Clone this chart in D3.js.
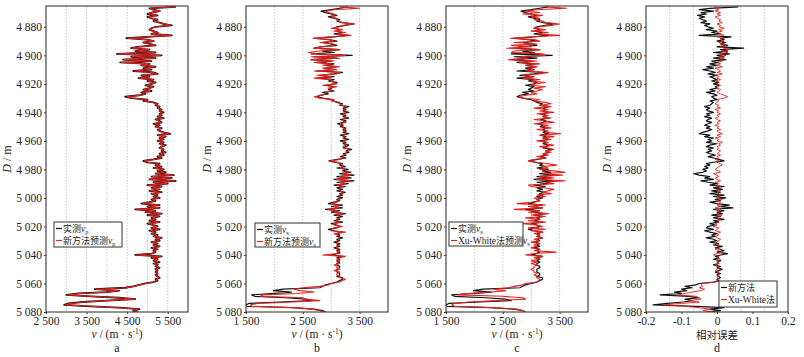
<!DOCTYPE html>
<html>
<head>
<meta charset="utf-8">
<script src="https://cdn.jsdelivr.net/npm/d3@7"></script>
<style>
body { margin: 0; background: #fff; }
text { font-family: "Liberation Serif", "Times New Roman", serif; fill: #222; }
.cjk { font-family: "Noto Sans CJK SC", sans-serif; }
</style>
</head>
<body>
<svg id="chart" width="804" height="357"></svg>
<script>
// depth sampling: one value per metre starting at 4866 m
var depthStart = 4866, depthStep = 1;

var vpMeasured = [
  5700, 5050, 5150, 5300, 5100, 5000, 5250, 5000, 5100, 5250,
  5150, 5300, 5400, 5600, 5200, 5100, 5050, 5150, 5250, 5100,
  5600, 5000, 4480, 5000, 5150, 4900, 5050, 5200, 4750, 4600,
  5050, 4700, 5200, 4250, 5350, 4600, 5200, 4400, 5100, 4330,
  5050, 4850, 5200, 4900, 5100, 4650, 5150, 5250, 4850, 5050,
  4780, 5150, 5000, 5200, 5100, 4950, 5150, 5050, 4900, 5100,
  4850, 4950, 4800, 4450, 4600, 5000, 4900, 5150, 5250, 5200,
  5300, 5250, 5350, 5300, 5400, 5300, 5350, 5250, 5400, 5200,
  5300, 5350, 5150, 5300, 5200, 5350, 5250, 5300, 5400, 5560,
  5250, 5450, 5300, 5400, 5250, 5400, 5300, 5450, 5350, 5300,
  5400, 5350, 5450, 5300, 5400, 5250, 5350, 5150, 4900, 5000,
  5300, 5200, 5350, 5150, 5400, 5250, 5450, 5200, 5650, 5100,
  5600, 5050, 5700, 5150, 5500, 5000, 5350, 5100, 5300, 5050,
  5350, 5100, 5250, 5150, 5300, 5100, 5200, 5050, 4850, 5300,
  5000, 5300, 4700, 5200, 4950, 5350, 5000, 5300, 5100, 5200,
  5050, 5300, 5000, 5150, 5250, 5100, 5300, 5050, 5200, 5100,
  5250, 5150, 5350, 5200, 5300, 5100, 5250, 5150, 5300, 5100,
  5250, 5150, 5200, 5100, 4700, 5350, 5100, 5250, 5150, 5300,
  5150, 5250, 5200, 5300, 5200, 5250, 5200, 5250, 5200, 5250,
  5300, 5200, 5250, 5150, 4950, 4800, 4650, 4450, 3700, 4300,
  4000, 3300, 3000, 3600, 4300, 4700, 4000, 3400, 3050, 2950,
  3600, 4300, 4800, 4650, 4750
];

var vpNewMethod = [
  5680, 5080, 5120, 5320, 5080, 5030, 5220, 5020, 5120, 5230,
  5170, 5280, 5420, 5570, 5230, 5080, 5070, 5130, 5270, 5080,
  5570, 5030, 4520, 4980, 5170, 4880, 5070, 5180, 4780, 4620,
  5030, 4730, 5180, 4290, 5320, 4630, 5180, 4430, 5080, 4360,
  5070, 4830, 5180, 4930, 5080, 4680, 5130, 5230, 4880, 5030,
  4810, 5130, 5020, 5180, 5120, 4970, 5130, 5070, 4920, 5080,
  4880, 4930, 4830, 4490, 4630, 4980, 4930, 5130, 5230, 5220,
  5280, 5270, 5330, 5320, 5380, 5320, 5330, 5270, 5380, 5220,
  5280, 5330, 5180, 5280, 5220, 5330, 5270, 5280, 5380, 5530,
  5270, 5430, 5320, 5380, 5270, 5380, 5320, 5430, 5330, 5320,
  5380, 5370, 5430, 5320, 5380, 5270, 5330, 5170, 4930, 5020,
  5280, 5220, 5330, 5170, 5380, 5270, 5430, 5220, 5620, 5130,
  5580, 5070, 5670, 5170, 5480, 5030, 5330, 5120, 5280, 5070,
  5330, 5120, 5230, 5170, 5280, 5120, 5180, 5070, 4880, 5280,
  5030, 5280, 4730, 5180, 4970, 5330, 5030, 5280, 5120, 5180,
  5070, 5280, 5030, 5130, 5230, 5120, 5280, 5070, 5180, 5120,
  5230, 5170, 5330, 5220, 5280, 5120, 5230, 5170, 5280, 5120,
  5230, 5170, 5180, 5120, 4730, 5330, 5120, 5230, 5170, 5280,
  5170, 5230, 5220, 5280, 5220, 5230, 5220, 5230, 5220, 5230,
  5280, 5220, 5230, 5170, 4970, 4820, 4680, 4480, 3740, 4280,
  4030, 3330, 3040, 3570, 4280, 4670, 4030, 3430, 3080, 2980,
  3570, 4280, 4770, 4670, 4730
];

var vsMeasured = [
  3300, 3150, 3000, 2820, 2900, 3000, 3100, 2950, 3050, 3150,
  3100, 3200, 3400, 3250, 3100, 3050, 3150, 3100, 3200, 3050,
  3300, 3050, 2700, 2950, 3100, 2850, 3000, 3100, 2800, 2700,
  3150, 2850, 3050, 2650, 3370, 2700, 3100, 2650, 3000, 2750,
  3050, 2900, 3100, 2900, 3050, 2750, 3200, 3050, 2800, 3050,
  2750, 3050, 2950, 3100, 3050, 2900, 3050, 3000, 2950, 3050,
  2850, 2950, 2800, 2750, 2850, 3000, 3050, 3100, 3200, 3150,
  3310, 3210, 3260, 3210, 3310, 3160, 3260, 3210, 3310, 3160,
  3260, 3210, 3110, 3210, 3160, 3260, 3210, 3260, 3210, 3310,
  3160, 3260, 3210, 3310, 3160, 3260, 3210, 3310, 3260, 3210,
  3360, 3260, 3310, 3210, 3260, 3160, 3260, 3110, 2960, 3060,
  3200, 3150, 3250, 3100, 3300, 3200, 3350, 3150, 3400, 3100,
  3350, 3050, 3400, 3100, 3300, 3050, 3250, 3100, 3200, 3100,
  3250, 3150, 3200, 3100, 3200, 3100, 3150, 3050, 2950, 3200,
  3000, 3200, 2900, 3150, 3000, 3250, 3050, 3200, 3100, 3150,
  3050, 3200, 3000, 3100, 3150, 3100, 2950, 3050, 3200, 3100,
  3150, 3100, 3200, 3100, 3150, 3050, 3150, 3100, 3150, 3050,
  3150, 3100, 3150, 3100, 3000, 3200, 3100, 3150, 3100, 3150,
  3100, 3100, 3150, 3150, 3100, 3100, 3100, 3150, 3150, 3100,
  3200, 3200, 3150, 3100, 3000, 2900, 2850, 2800, 2150, 1980,
  2300, 2000, 1600, 1650, 2200, 2550, 2650, 2100, 1550, 1500,
  1520, 2300, 2700, 2850, 2900
];

var vsNewMethod = [
  3150, 3500, 3050, 2900, 2950, 3050, 3050, 3000, 3100, 3100,
  3150, 3150, 3410, 3200, 3150, 3000, 3200, 3050, 3250, 3100,
  3350, 3000, 2680, 3000, 3050, 2800, 3050, 3050, 2850, 2680,
  3150, 2800, 2600, 2750, 3250, 2650, 3150, 2640, 3050, 2700,
  3000, 2850, 3150, 2850, 3100, 2700, 3150, 3100, 2750, 3000,
  2700, 3000, 3000, 3050, 3100, 2850, 3100, 2950, 3000, 3000,
  2900, 2900, 2850, 2700, 2800, 3050, 3000, 3150, 3150, 3200,
  3260, 3260, 3210, 3260, 3260, 3210, 3210, 3260, 3260, 3210,
  3210, 3260, 3160, 3160, 3210, 3210, 3260, 3210, 3260, 3260,
  3210, 3210, 3260, 3260, 3210, 3210, 3260, 3260, 3210, 3260,
  3310, 3310, 3260, 3260, 3210, 3210, 3210, 3160, 2980, 3110,
  3150, 3200, 3200, 3150, 3250, 3250, 3300, 3200, 3350, 3150,
  3300, 3100, 3350, 3150, 3250, 3100, 3200, 3150, 3150, 3150,
  3200, 3200, 3150, 3150, 3150, 3150, 3100, 3100, 3000, 3150,
  3050, 3150, 2950, 3100, 3050, 3200, 3100, 3150, 3150, 3100,
  3100, 3150, 3050, 3050, 3200, 3050, 3000, 3000, 3250, 3050,
  3100, 3150, 3150, 3150, 3100, 3100, 3100, 3150, 3100, 3100,
  3100, 3150, 3100, 3150, 2850, 3250, 3150, 3100, 3150, 3100,
  3150, 3050, 3100, 3100, 3150, 3050, 3150, 3100, 3100, 3150,
  3150, 3250, 3200, 3150, 3000, 2950, 2800, 2500, 2350, 2450,
  2700, 2400, 1800, 1750, 2500, 2550, 2800, 2300, 1700, 1580,
  1600, 2400, 2650, 2800, 2850
];

var vsXuWhite = [
  3250, 3620, 3100, 2900, 3150, 2850, 3200, 3000, 3150, 3050,
  3200, 3250, 3500, 3350, 3150, 3050, 3250, 3000, 3300, 3100,
  3500, 3000, 2630, 3050, 3150, 2700, 3100, 2650, 3000, 2570,
  3150, 2700, 2650, 3200, 3250, 2800, 2950, 2600, 3100, 2800,
  3150, 2900, 3100, 2950, 3050, 2900, 3300, 3150, 2850, 3050,
  2850, 3150, 3000, 3250, 3050, 3000, 3250, 3050, 3200, 3100,
  3000, 3100, 2900, 2780, 2850, 3150, 3050, 3250, 3350, 3150,
  3350, 3050, 3300, 3150, 3400, 3100, 3300, 3200, 3350, 3050,
  3250, 3400, 3050, 3300, 3200, 3350, 3100, 3300, 3250, 3520,
  3150, 3400, 3200, 3350, 3100, 3300, 3250, 3400, 3150, 3300,
  3400, 3250, 3350, 3200, 3300, 3100, 3250, 3050, 2950, 3100,
  3300, 3450, 3200, 3300, 3150, 3400, 3600, 3200, 3550, 3150,
  3400, 3100, 3600, 3250, 3400, 2950, 3000, 3250, 3400, 3300,
  3200, 3350, 3100, 3250, 3050, 3100, 3150, 3000, 2750, 3250,
  2950, 3200, 2700, 3150, 2950, 3300, 3000, 3250, 2900, 3150,
  2950, 3250, 2850, 3100, 3200, 2950, 3250, 3000, 3200, 3050,
  3150, 3100, 3200, 3050, 3150, 3000, 3150, 3050, 3100, 3000,
  3150, 3050, 3440, 3050, 2900, 3200, 3050, 3150, 3000, 3100,
  3000, 3100, 3050, 3050, 3000, 3050, 3050, 3100, 3050, 3100,
  3100, 3150, 3150, 3100, 2900, 2850, 2700, 2600, 2350, 2550,
  2300, 1900, 1700, 2500, 2850, 2900, 2400, 1900, 1650, 1600,
  1650, 2350, 2750, 2850, 2880
];

var errNewMethod = [
  0.06, -0.02, -0.05, -0.01, -0.045, -0.03, -0.055, -0.035, -0.05, -0.04,
  -0.03, -0.045, -0.02, -0.035, -0.025, -0.01, -0.03, 0.0, -0.015, 0.01,
  -0.05, 0.04, 0.01, 0.02, 0.0, 0.025, 0.01, 0.03, 0.0, 0.075,
  0.01, 0.03, -0.01, 0.035, 0.0, 0.02, -0.01, 0.025, -0.015, 0.005,
  -0.02, 0.0, -0.03, -0.01, -0.04, -0.02, -0.005, -0.025, 0.0, -0.02,
  -0.01, 0.0, -0.015, 0.005, -0.01, 0.005, -0.005, 0.0, -0.02, -0.005,
  -0.03, -0.01, 0.0, -0.015, -0.01, 0.0, -0.02, -0.01, -0.015, -0.02,
  -0.035, -0.02, -0.03, -0.025, -0.01, -0.03, -0.02, -0.035, -0.015, -0.025,
  -0.03, -0.015, -0.025, -0.035, -0.02, -0.03, -0.015, -0.025, -0.04, -0.05,
  -0.02, -0.035, -0.01, -0.025, -0.015, -0.03, 0.0, -0.02, -0.03, -0.01,
  -0.025, -0.015, -0.03, -0.02, -0.005, -0.025, -0.01, 0.005, 0.02, -0.01,
  -0.03, -0.02, -0.035, -0.025, -0.04, -0.03, -0.04, -0.065, -0.05, -0.02,
  -0.035, -0.01, -0.045, -0.025, 0.0, -0.02, 0.02, -0.01, 0.015, -0.015,
  0.01, -0.02, 0.02, -0.01, 0.025, -0.005, 0.01, -0.02, 0.0, 0.035,
  0.005, 0.045, -0.01, 0.02, 0.0, 0.015, -0.015, 0.01, -0.01, 0.02,
  -0.01, 0.005, -0.02, -0.005, -0.025, -0.03, -0.01, -0.035, -0.02, 0.0,
  -0.015, -0.005, -0.03, -0.01, 0.0, -0.02, 0.005, -0.01, 0.015, -0.005,
  0.01, 0.02, 0.0, 0.03, 0.01, -0.005, 0.005, -0.01, 0.01, 0.0,
  0.005, -0.01, 0.01, 0.0, 0.015, 0.005, -0.005, 0.01, 0.0, 0.005,
  0.01, 0.0, 0.005, -0.01, -0.05, -0.06, -0.09, -0.07, -0.1, -0.085,
  -0.12, -0.1, -0.16, -0.08, -0.05, -0.09, -0.07, -0.095, -0.14, -0.18,
  -0.06, 0.02, -0.02, 0.01, -0.03
];

var errXuWhite = [
  0.0, -0.01, 0.005, -0.005, 0.01, 0.0, 0.01, -0.005, 0.0, 0.01,
  0.005, 0.015, 0.0, 0.01, 0.005, 0.02, 0.005, 0.015, 0.0, 0.01,
  0.02, 0.0, 0.015, 0.01, 0.02, 0.005, 0.015, 0.025, 0.01, 0.02,
  0.035, 0.015, 0.03, 0.01, 0.025, 0.005, 0.02, 0.01, 0.015, 0.0,
  0.01, 0.0, 0.015, -0.005, 0.005, 0.01, 0.0, 0.015, -0.005, 0.005,
  0.0, 0.01, -0.005, 0.005, 0.0, 0.01, 0.005, 0.0, 0.01, 0.005,
  0.0, 0.01, 0.02, 0.03, 0.02, 0.0, 0.005, 0.0, -0.005, 0.005,
  0.0, 0.01, -0.005, 0.005, 0.0, 0.01, 0.0, 0.005, -0.005, 0.0,
  0.01, 0.0, 0.005, -0.005, 0.005, 0.0, 0.01, 0.0, 0.005, 0.015,
  0.0, 0.01, -0.005, 0.005, 0.0, 0.015, 0.005, 0.01, 0.0, 0.005,
  0.0, 0.01, 0.005, 0.0, 0.01, 0.0, 0.005, -0.005, 0.005, 0.0,
  0.01, 0.015, 0.005, 0.0, -0.005, 0.005, 0.01, -0.01, 0.0, 0.005,
  -0.005, 0.0, 0.01, -0.005, 0.005, 0.0, 0.01, 0.005, 0.0, 0.01,
  0.0, 0.005, 0.01, 0.0, 0.005, 0.015, 0.0, 0.01, 0.005, 0.0,
  0.01, -0.005, 0.005, 0.0, 0.01, 0.0, 0.015, 0.005, 0.0, 0.01,
  0.0, 0.005, -0.005, 0.0, -0.01, 0.005, 0.0, -0.005, 0.01, 0.0,
  0.005, -0.005, 0.0, 0.01, 0.005, 0.0, -0.005, 0.005, 0.0, 0.005,
  -0.005, 0.005, 0.015, 0.0, -0.01, 0.005, 0.0, 0.01, 0.005, 0.0,
  0.005, -0.005, 0.0, 0.005, 0.0, -0.005, 0.005, 0.0, 0.005, 0.0,
  0.0, 0.005, 0.0, -0.005, -0.04, -0.045, -0.04, -0.05, -0.035, -0.045,
  -0.07, -0.09, -0.11, -0.06, -0.05, -0.045, -0.08, -0.05, -0.1, -0.15,
  -0.09, -0.05, -0.02, -0.04, -0.01
];

var depthTicks = [4880, 4900, 4920, 4940, 4960, 4980, 5000, 5020, 5040, 5060, 5080];
var vpTicks = [2500, 3500, 4500, 5500];
var vsTicks = [1500, 2500, 3500];
var errTicks = [-0.2, -0.1, 0, 0.1, 0.2];

var BLACK = "#111", RED = "#e5211d";

var svg = d3.select("#chart");
var plotTop = 6, plotBottom = 312, pw = 142;

var y = d3.scaleLinear().domain([4865.4, 5080]).range([plotTop, plotBottom]);

var loc = d3.formatLocale({decimal: ".", thousands: " ", grouping: [3], currency: ["", ""], minus: "-"});
var fmtThousands = loc.format(",");
var fmtErr = function(d) { return d === 0 ? "0" : loc.format(".1f")(d); };

// text pieces: [text, style] ; style: "cjk", "it", "sub", "sup", "back"
function addRich(t, parts, size) {
  parts.forEach(function(p) {
    var s = t.append("tspan").text(p[0]);
    if (p[1] === "cjk") s.attr("class", "cjk").attr("font-size", size - 1);
    if (p[1] === "it") s.attr("font-style", "italic");
    if (p[1] === "sub") s.attr("font-size", size * 0.65).attr("dy", 2);
    if (p[1] === "sup") s.attr("font-size", size * 0.65).attr("dy", -4);
    if (p[1] === "back") s.attr("dy", 4);
  });
}

var panels = [
  { left: 46, domain: [2500, 6000], ticks: vpTicks, fmt: fmtThousands,
    grid: [3000, 3500, 4000, 4500, 5000, 5500],
    series: [{v: vpMeasured, c: BLACK, w: 1.8}, {v: vpNewMethod, c: RED, w: 1.1}],
    letter: "a", legend: {x: 8, y: 216, w: 68, h: 25, items: [
      {c: BLACK, parts: [["实测", "cjk"], ["v", "it"], ["p", "sub"]]},
      {c: RED, parts: [["新方法预测", "cjk"], ["v", "it"], ["p", "sub"]]}]} },
  { left: 246, domain: [1500, 4000], ticks: vsTicks, fmt: fmtThousands,
    grid: [2000, 2500, 3000, 3500],
    series: [{v: vsMeasured, c: BLACK, w: 1.2}, {v: vsNewMethod, c: RED, w: 1.1}],
    letter: "b", legend: {x: 9, y: 217, w: 65, h: 24, items: [
      {c: BLACK, parts: [["实测", "cjk"], ["v", "it"], ["s", "sub"]]},
      {c: RED, parts: [["新方法预测", "cjk"], ["v", "it"], ["s", "sub"]]}]} },
  { left: 446, domain: [1500, 4000], ticks: vsTicks, fmt: fmtThousands,
    grid: [2000, 2500, 3000, 3500],
    series: [{v: vsMeasured, c: BLACK, w: 1.2}, {v: vsXuWhite, c: RED, w: 1.1}],
    letter: "c", legend: {x: 3, y: 216, w: 74, h: 24, items: [
      {c: BLACK, parts: [["实测", "cjk"], ["v", "it"], ["s", "sub"]]},
      {c: RED, parts: [["Xu-White", ""], ["法预测", "cjk"], ["v", "it"], ["s", "sub"]]}]} },
  { left: 646, domain: [-0.2, 0.2], ticks: errTicks, fmt: fmtErr,
    grid: [-0.2 + 0.4 / 6, -0.2 + 0.8 / 6, 0.2 - 0.8 / 6, 0.2 - 0.4 / 6],
    series: [{v: errNewMethod, c: BLACK, w: 1.2}, {v: errXuWhite, c: RED, w: 0.9}],
    letter: "d", xTitle: "相对误差", legend: {x: 73, y: 275, w: 58, h: 26, items: [
      {c: BLACK, parts: [["新方法", "cjk"]]},
      {c: RED, parts: [["Xu-White", ""], ["法", "cjk"]]}]} }
];

panels.forEach(function(p, pi) {
  var x = d3.scaleLinear().domain(p.domain).range([p.left, p.left + pw]);
  var g = svg.append("g");

  svg.append("clipPath").attr("id", "clip" + pi)
    .append("rect").attr("x", p.left).attr("y", plotTop).attr("width", pw).attr("height", plotBottom - plotTop);

  // dotted grid
  g.append("g").selectAll("line").data(p.grid).join("line")
    .attr("x1", d => x(d)).attr("x2", d => x(d))
    .attr("y1", plotTop).attr("y2", plotBottom)
    .attr("stroke", "#b8b8b8").attr("stroke-width", 0.8).attr("stroke-dasharray", "1.5,1.5");

  // curves
  var line = d3.line()
    .x(d => x(d))
    .y((d, i) => y(depthStart + i * depthStep));
  p.series.forEach(function(s) {
    g.append("path").datum(s.v)
      .attr("clip-path", "url(#clip" + pi + ")")
      .attr("fill", "none").attr("stroke", s.c).attr("stroke-width", s.w)
      .attr("stroke-linejoin", "round").attr("d", line);
  });

  // axes
  var ya = g.append("g").attr("transform", "translate(" + p.left + ",0)")
    .call(d3.axisLeft(y).tickValues(depthTicks).tickFormat(fmtThousands).tickSize(2).tickPadding(2));
  var xa = g.append("g").attr("transform", "translate(0," + plotBottom + ")")
    .call(d3.axisBottom(x).tickValues(p.ticks).tickFormat(p.fmt).tickSize(2).tickPadding(2.5));
  [ya, xa].forEach(function(a) {
    a.select(".domain").remove();
    a.selectAll("line").attr("stroke", "#333");
    a.selectAll("text").attr("font-size", 11.5).attr("fill", "#222")
      .attr("font-family", "'Liberation Serif', serif");
  });

  // frame
  g.append("rect").attr("x", p.left).attr("y", plotTop).attr("width", pw).attr("height", plotBottom - plotTop)
    .attr("fill", "none").attr("stroke", "#3a3a3a").attr("stroke-width", 1.1);

  // y title
  var yt = g.append("text").attr("transform", "translate(" + (p.left - 35) + "," + ((plotTop + plotBottom) / 2) + ") rotate(-90)")
    .attr("text-anchor", "middle").attr("font-size", 12);
  addRich(yt, [["D", "it"], [" / m", ""]], 12);

  // x title
  var cx = p.left + pw / 2;
  var xt = g.append("text").attr("x", cx).attr("y", 337.5).attr("text-anchor", "middle").attr("font-size", 11.5);
  if (p.xTitle) {
    xt.attr("class", "cjk").attr("font-size", 10.5).attr("y", 338.5).text(p.xTitle);
  } else {
    addRich(xt, [["v", "it"], [" / (m \u00b7 s", ""], ["-1", "sup"], [")", "back"]], 11.5);
  }

  // panel letter
  g.append("text").attr("x", cx).attr("y", 351.5).attr("text-anchor", "middle").attr("font-size", 12).text(p.letter);

  // legend
  var L = p.legend;
  var lg = g.append("g").attr("transform", "translate(" + (p.left + L.x) + "," + (plotTop + L.y) + ")");
  lg.append("rect").attr("width", L.w).attr("height", L.h)
    .attr("fill", "#fff").attr("stroke", "#333").attr("stroke-width", 1);
  L.items.forEach(function(it, k) {
    var cy = 6.5 + k * 12;
    lg.append("line").attr("x1", 2).attr("x2", 8).attr("y1", cy).attr("y2", cy)
      .attr("stroke", it.c).attr("stroke-width", 1.2);
    var t = lg.append("text").attr("x", 9).attr("y", cy + 3.5).attr("font-size", 9.5);
    addRich(t, it.parts, 10);
  });
});
</script>
</body>
</html>
